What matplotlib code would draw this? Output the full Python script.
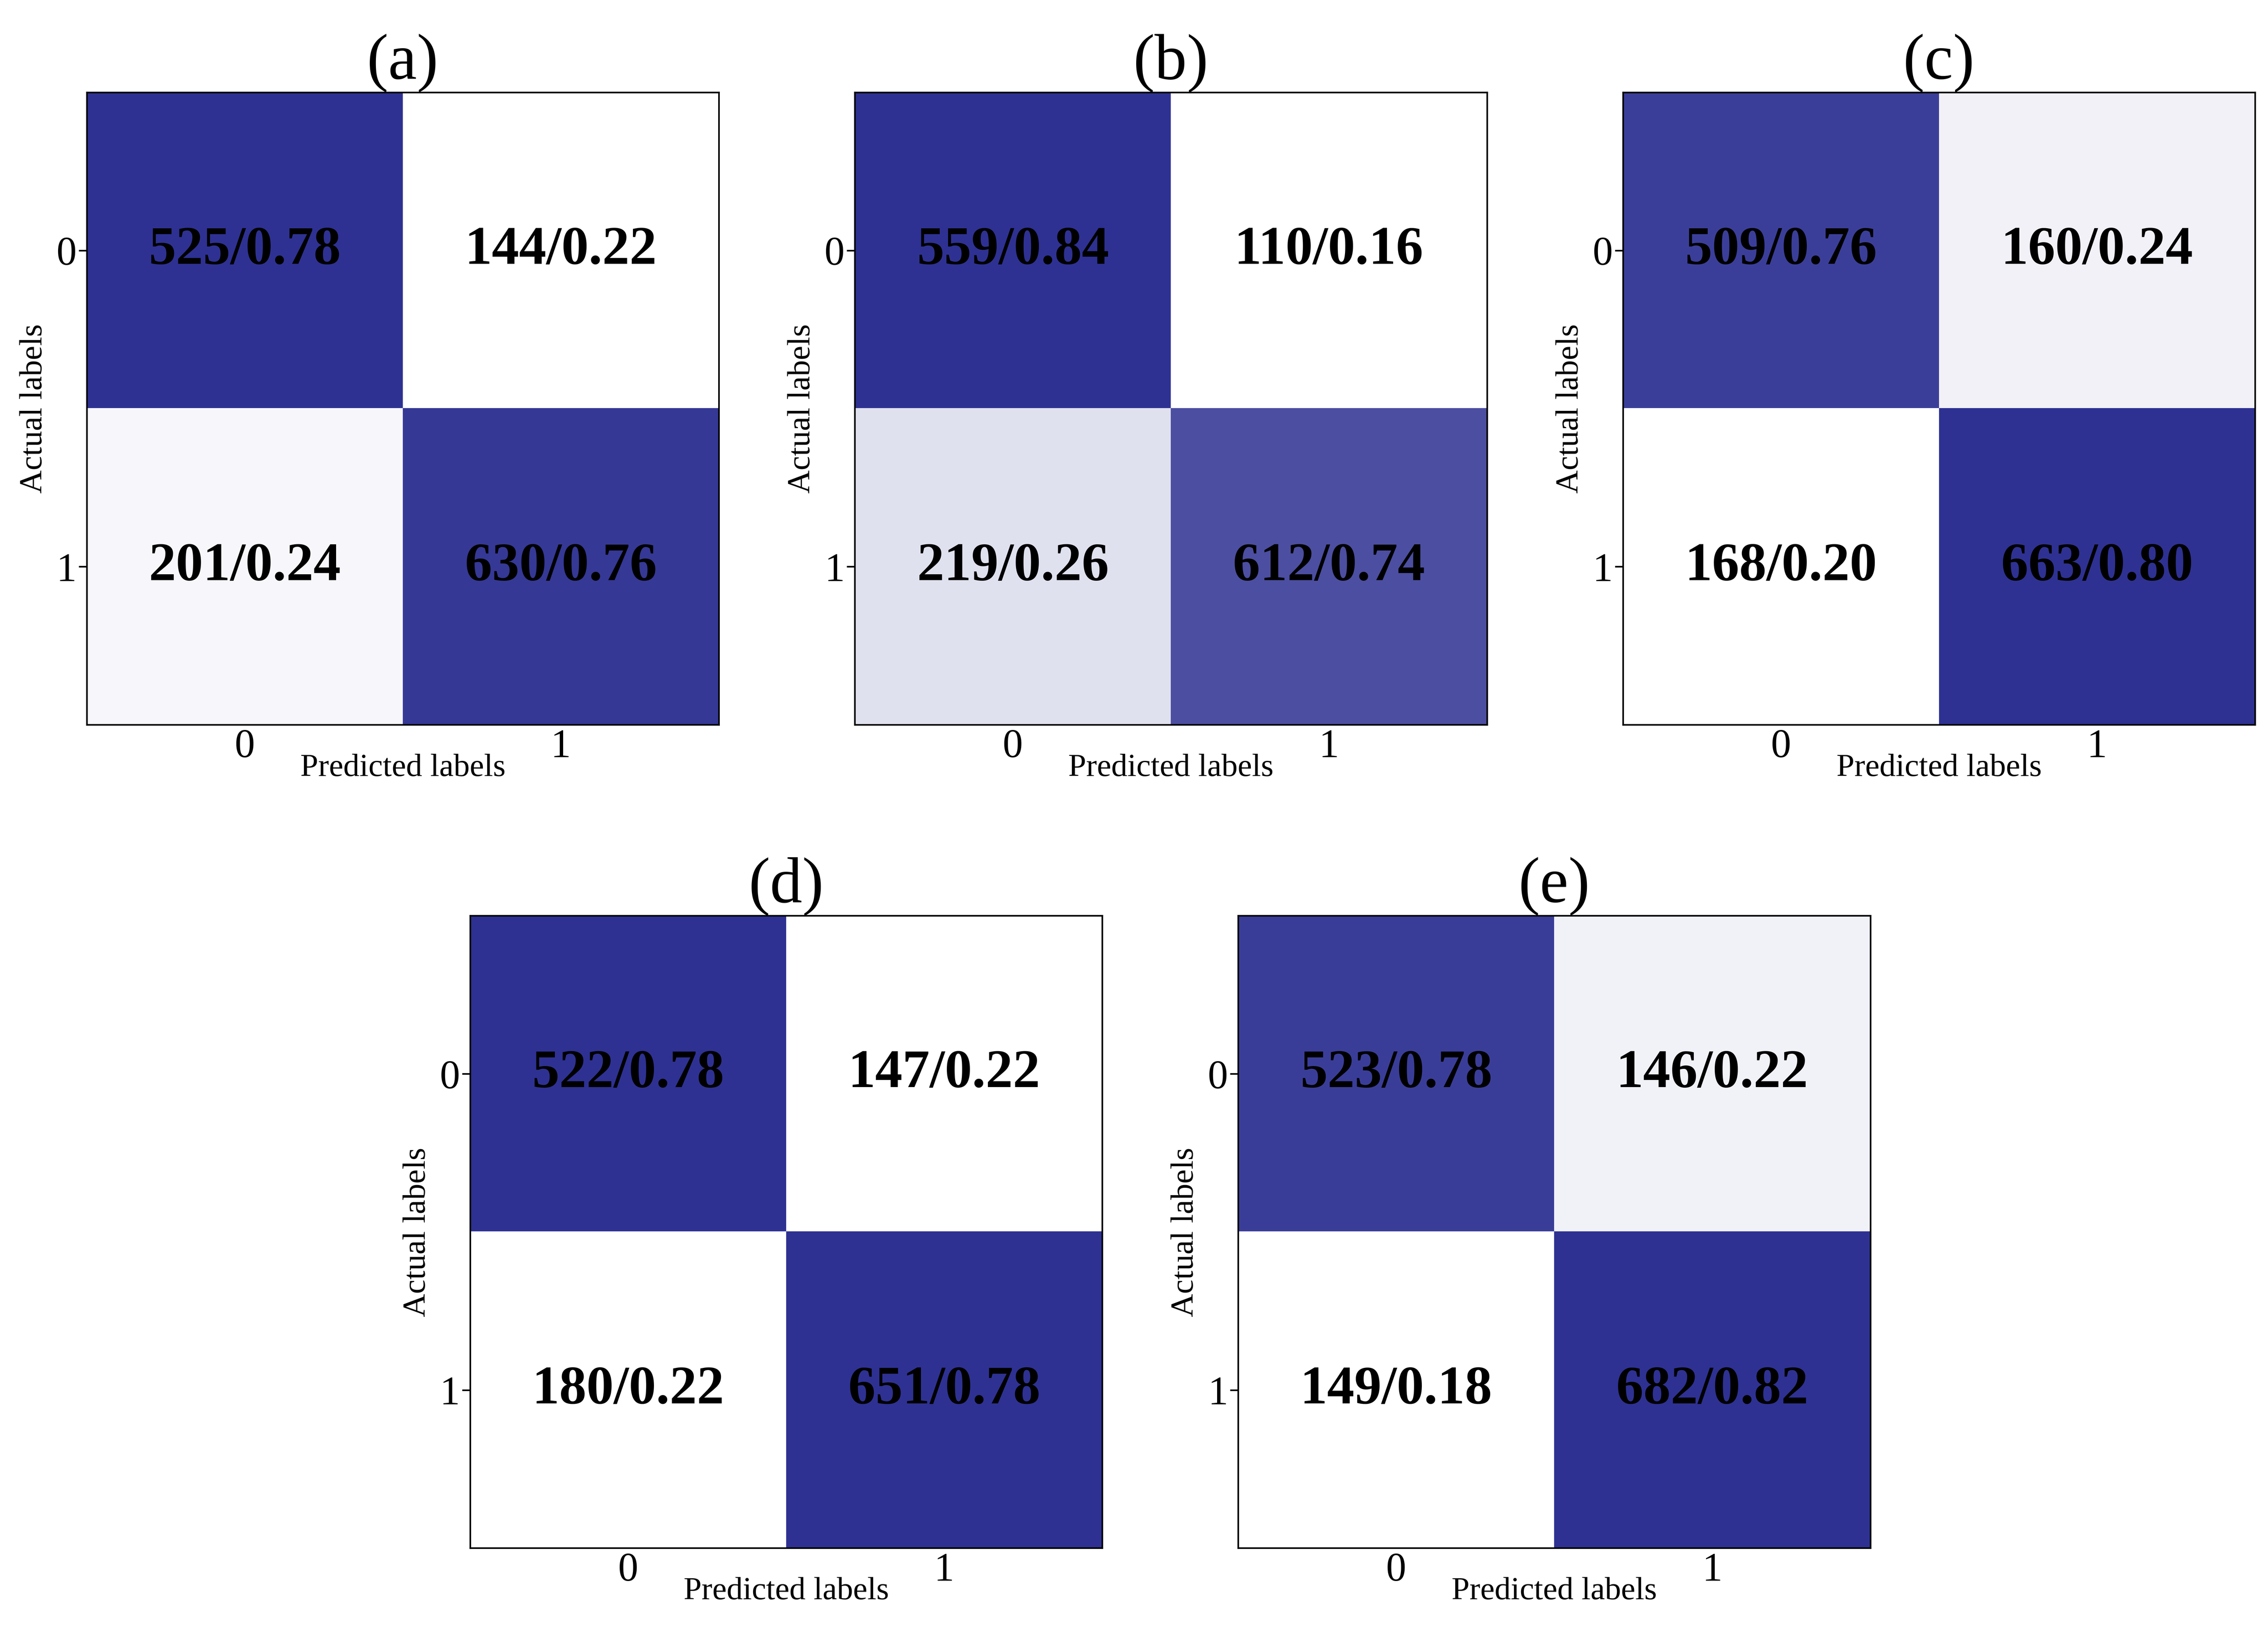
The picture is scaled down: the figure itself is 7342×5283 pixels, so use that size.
import numpy as np
import matplotlib
matplotlib.use("Agg")
import matplotlib.pyplot as plt
from matplotlib.colors import LinearSegmentedColormap

titles = ["(a)", "(b)", "(c)", "(d)", "(e)"]
counts = [
    [[525, 144], [201, 630]],
    [[559, 110], [219, 612]],
    [[509, 160], [168, 663]],
    [[522, 147], [180, 651]],
    [[523, 146], [149, 682]],
]
ratios = [
    [[0.78, 0.22], [0.24, 0.76]],
    [[0.84, 0.16], [0.26, 0.74]],
    [[0.76, 0.24], [0.20, 0.80]],
    [[0.78, 0.22], [0.22, 0.78]],
    [[0.78, 0.22], [0.18, 0.82]],
]
tick_labels = ["0", "1"]

plt.rcParams["font.family"] = "Liberation Serif"
W, H = 1568, 1128
fig = plt.figure(figsize=(7811/500, 5621/500), dpi=470)
cmap = LinearSegmentedColormap.from_list("wb", ["#ffffff", "#2e3192"])
boxes = [(60, 64), (591, 64), (1122, 64), (325, 633), (856, 633)]
size = 437
for i, (x0, y0) in enumerate(boxes):
    ax = fig.add_axes([x0/W, 1-(y0+size)/H, size/W, size/H])
    r = np.array(ratios[i]); c = np.array(counts[i])
    ax.imshow(r, cmap=cmap, vmin=r.min(), vmax=r.max(), aspect="auto")
    for a in range(2):
        for b in range(2):
            ax.text(b, a, f"{c[a,b]}/{r[a,b]:.2f}", ha="center", va="center",
                    fontsize=27, fontweight="bold", color="black")
    ax.set_xticks([0, 1]); ax.set_yticks([0, 1])
    ax.set_xticklabels(tick_labels, fontsize=20)
    ax.set_yticklabels(tick_labels, fontsize=20)
    ax.tick_params(axis="x", length=0, pad=2)
    ax.tick_params(axis="y", length=4, pad=1)
    ax.set_xlabel("Predicted labels", fontsize=16, labelpad=-6)
    ax.set_ylabel("Actual labels", fontsize=16)
    ax.set_title(titles[i], fontsize=32, pad=2)
    for s in ax.spines.values():
        s.set_linewidth(0.8)
fig.savefig("out.png", dpi=470)
